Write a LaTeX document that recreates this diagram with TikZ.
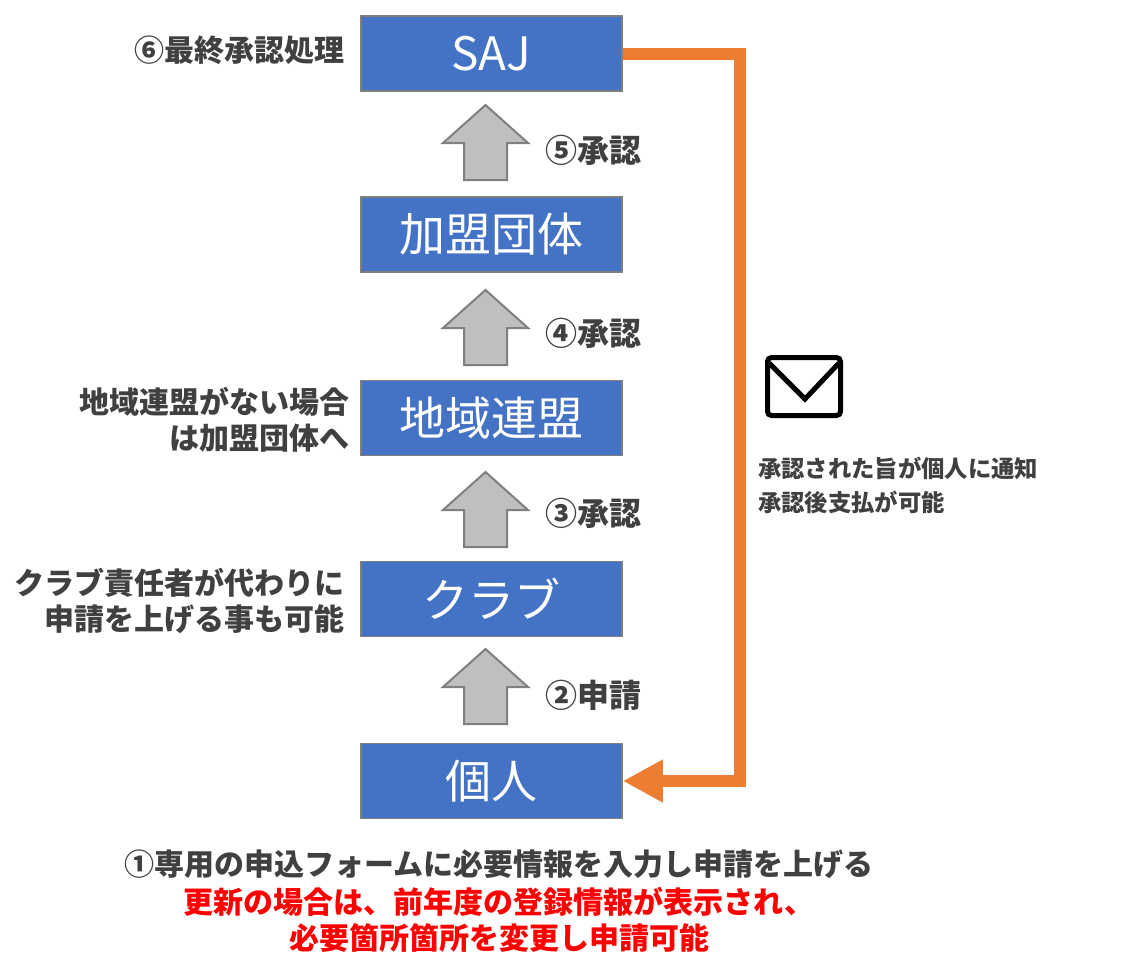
\documentclass[tikz,border=0pt]{standalone}
\usepackage{fontspec}
\usepackage{tikz}
\usetikzlibrary{positioning,arrows.meta}
\newfontfamily\jp{Noto Sans CJK JP}
\newcommand{\upx}{0.75pt}
\definecolor{boxblue}{HTML}{4472C4}
\definecolor{boxline}{HTML}{7F7F7F}
\definecolor{arrfill}{HTML}{BFBFBF}
\definecolor{flow}{HTML}{ED7D31}
\definecolor{txt}{HTML}{404040}
\definecolor{warn}{HTML}{FF0000}
\tikzstyle{b}=[draw=boxline, line width=1.5*\upx, fill=boxblue, text=white, minimum width=261*\upx, minimum height=75*\upx, inner sep=0pt, font=\jp\fontsize{34.5}{40}\selectfont]
\tikzstyle{st}=[text=txt, inner sep=0pt, font=\jp\bfseries\fontsize{22.5}{27}\selectfont]
\tikzstyle{nt}=[text=txt, inner sep=0pt, align=left, font=\jp\bfseries\fontsize{17.5}{25.5}\selectfont]
\tikzstyle{up}=[draw=boxline, line width=2*\upx, fill=arrfill, line join=miter]

\begin{document}
\begin{tikzpicture}[x=0.75pt, y=-0.75pt, >={Triangle[length=30pt, width=30pt]}]
\useasboundingbox (0,0) rectangle (1126,953);
\node[b] (saj) at (491.5,53.5) {SAJ};
\node[b] (kamei) at (491.5,234.5) {加盟団体};
\node[b] (chiiki) at (491.5,418) {地域連盟};
\node[b] (club) at (491.5,599) {クラブ};
\node[b] (kojin) at (491.5,781) {個人};

% block arrows between the boxes
\foreach \t in {105,290,472,649}
  \draw[up] (485.5,\t) -- ++(42.5,38) -- ++(-21,0) -- ++(0,37) -- ++(-43,0) -- ++(0,-37) -- ++(-21,0) -- cycle;

\node[st, anchor=west, font=\jp\bfseries\fontsize{24}{28}\selectfont] (s5) at (545,150) {⑤承認};
\node[st, anchor=west, font=\jp\bfseries\fontsize{24}{28}\selectfont] (s4) at (545,333) {④承認};
\node[st, anchor=west, font=\jp\bfseries\fontsize{24}{28}\selectfont] (s3) at (545,513) {③承認};
\node[st, anchor=west, font=\jp\bfseries\fontsize{24}{28}\selectfont] (s2) at (545,695) {②申請};
\node[st, anchor=east] (s6) at (345,50) {⑥最終承認処理};
\node[st, anchor=east, align=right] (nochiiki) at (350,420) {地域連盟がない場合\\は加盟団体へ};
\node[st, anchor=east, align=right] (byclub) at (345,601) {クラブ責任者が代わりに\\申請を上げる事も可能};

% notification back to the applicant
\coordinate (turn) at (740,53.5);
\draw[->, flow, line width=9pt, line join=miter] (saj.east) -- (turn) |- (kojin.east);

\node[draw, line width=5*\upx, rounded corners=4*\upx, minimum width=73*\upx, minimum height=58*\upx, inner sep=0pt] (mail) at (804,386.5) {};
\draw[line width=5*\upx, line join=miter] ([xshift=4*\upx, yshift=-8*\upx]mail.north west) -- (805,399) -- ([xshift=-4*\upx, yshift=-8*\upx]mail.north east);
\node[nt, anchor=west] (notice) at (758,485) {承認された旨が個人に通知\\承認後支払が可能};

\node[st] (s1) at (499,864) {①専用の申込フォームに必要情報を入力し申請を上げる};
\node[st, text=warn, align=center, below=6pt of s1] (renew) {更新の場合は、前年度の登録情報が表示され、\\必要箇所箇所を変更し申請可能};

\end{tikzpicture}
\end{document}
